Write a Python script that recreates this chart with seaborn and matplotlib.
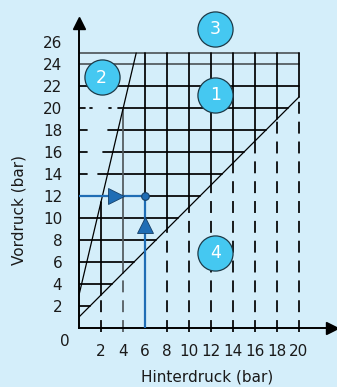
import numpy as np
import pandas as pd
import matplotlib
matplotlib.use("Agg")
import matplotlib.pyplot as plt
import seaborn as sns

# ---------------- data ----------------
hinterdruck_ticks = [2, 4, 6, 8, 10, 12, 14, 16, 18, 20]
vordruck_ticks = [2, 4, 6, 8, 10, 12, 14, 16, 18, 20, 22, 24, 26]
grid_top = 25          # upper limit of the diagram
grid_right = 20        # right limit of the diagram
steep_line_x = [0, 5.2]
steep_line_y = [3, 25]
diag_line_x = [0, 20]
diag_line_y = [1, 21]
region_labels = ["1", "2", "3", "4"]
region_x = [12.4, 2.05, 12.4, 12.4]
region_y = [21.2, 22.8, 27.2, 6.85]
op_hinterdruck = 6
op_vordruck = 12

BG = "#d4eefa"
BLUE = "#1f6db5"
CYAN = "#45c8f1"
GRAY = "#50585c"
TXT = "#1a1a1a"
FS = 11

sns.set_theme(style="white")
plt.rcParams["font.family"] = ["DejaVu Sans"]

fig = plt.figure(figsize=(3.37, 3.87), dpi=100, facecolor=BG)
W, H = 337, 387
x0px, y0px, ppu = 79, 328, 11.0
xmax, ymax = 23.0, 27.7
ax = fig.add_axes([x0px / W, (H - y0px) / H, xmax * ppu / W, ymax * ppu / H])
ax.set_facecolor(BG)
ax.set_xlim(0, xmax)
ax.set_ylim(0, ymax)


def lin(xs, ys, v):
    s = (ys[1] - ys[0]) / (xs[1] - xs[0])
    return ys[0] + s * (v - xs[0])


def steep_x_at(y):
    return lin(steep_line_y, steep_line_x, y)


def steep_y_at(x):
    return lin(steep_line_x, steep_line_y, x)


def diag_x_at(y):
    return lin(diag_line_y, diag_line_x, y)


def diag_y_at(x):
    return lin(diag_line_x, diag_line_y, x)


LW = 1.25
# horizontal grid lines
for y in vordruck_ticks:
    if y > grid_top:
        continue
    right = min(grid_right, diag_x_at(y))
    col = GRAY if y >= 24 else "black"
    if y <= 12:
        start = op_hinterdruck if y == op_vordruck else 0
        ax.plot([start, right], [y, y], color=col, lw=LW, zorder=2)
    elif y <= 18:
        ax.plot([0, 0.7], [y, y], color=col, lw=LW, zorder=2)
        ax.plot([steep_x_at(y) - 0.9, right], [y, y], color=col, lw=LW, zorder=2)
    elif y == 20:
        ax.plot([0, 0.5], [y, y], color=col, lw=LW, zorder=2)
        ax.plot([1.0, 1.15], [y, y], color=col, lw=LW, zorder=2)
        ax.plot([2.75, 2.9], [y, y], color=col, lw=LW, zorder=2)
        ax.plot([3.5, right], [y, y], color=col, lw=LW, zorder=2)
    else:
        ax.plot([0, right], [y, y], color=col, lw=LW, zorder=2)
ax.plot([0, grid_right], [grid_top, grid_top], color=GRAY, lw=LW, zorder=2)

# vertical grid lines
dash = (12 / 1.4 / LW, 8 / 1.4 / LW)
for x in hinterdruck_ticks:
    lo = diag_y_at(x)
    hi = min(grid_top, steep_y_at(x))
    col = GRAY if x == 4 else "black"
    if x != op_hinterdruck:
        ax.plot([x, x], [lo, hi], color=col, lw=LW, zorder=2)
        ax.plot([x, x], [-0.35, lo], color=col, lw=LW, zorder=2,
                linestyle=(0, dash), clip_on=False)
    else:
        ax.plot([x, x], [op_vordruck, hi], color=col, lw=LW, zorder=2)

# boundary lines
bounds = pd.DataFrame({
    "x": steep_line_x + diag_line_x,
    "y": steep_line_y + diag_line_y,
    "line": ["steep", "steep", "diag", "diag"],
})
sns.lineplot(data=bounds, x="x", y="y", units="line", estimator=None,
             color="black", lw=0.9, ax=ax, zorder=3, sort=False)

# operating point path
ax.plot([0, op_hinterdruck], [op_vordruck, op_vordruck], color=BLUE, lw=1.6, zorder=4)
ax.plot([op_hinterdruck, op_hinterdruck], [0, op_vordruck], color=BLUE, lw=1.6, zorder=4)
ax.plot([3.35], [op_vordruck], marker=">", ms=11, color=BLUE, mec="#153f66",
        mew=0.6, zorder=5)
ax.plot([op_hinterdruck], [9.35], marker="^", ms=11, color=BLUE, mec="#153f66",
        mew=0.6, zorder=5)
ax.plot([op_hinterdruck], [op_vordruck], marker="o", ms=5.5, color=BLUE,
        mec="#153f66", mew=0.8, zorder=6)

# region circles
regions = pd.DataFrame({"x": region_x, "y": region_y, "label": region_labels})
sns.scatterplot(data=regions, x="x", y="y", s=640, color=CYAN,
                edgecolor="#1d3a48", linewidth=0.9, ax=ax, zorder=7,
                clip_on=False, legend=False)
for _, r in regions.iterrows():
    ax.text(r.x, r.y - 0.05, r.label, color="white", fontsize=12.5,
            ha="center", va="center", zorder=8)

# axes styling
for s in ["top", "right"]:
    ax.spines[s].set_visible(False)
for s in ["left", "bottom"]:
    ax.spines[s].set_color("black")
    ax.spines[s].set_linewidth(1.4)
ax.plot(0, ymax, marker="^", ms=9, color="black", clip_on=False, zorder=9)
ax.plot(xmax, 0, marker=">", ms=9, color="black", clip_on=False, zorder=9)

ax.set_xticks(hinterdruck_ticks)
ax.set_xticklabels([str(v) for v in hinterdruck_ticks])
ax.set_yticks(vordruck_ticks)
ax.set_yticklabels([str(v) for v in vordruck_ticks])
ax.tick_params(axis="x", direction="out", length=6.5, width=1.2, color="black",
               pad=5, labelsize=FS, labelcolor=TXT)
ax.tick_params(axis="y", direction="out", length=8, width=1.2, color="black",
               pad=4, labelsize=FS, labelcolor=TXT)
ax.set_xlabel("")
ax.set_ylabel("")
fig.text(65 / W, 1 - 342 / H, "0", fontsize=FS, ha="center", va="center",
         color=TXT)
fig.text(207 / W, 1 - 377 / H, "Hinterdruck (bar)", fontsize=FS, ha="center",
         va="center", color=TXT)
fig.text(19 / W, 1 - 210 / H, "Vordruck (bar)", fontsize=FS, ha="center",
         va="center", rotation=90, color=TXT)

fig.savefig("out.png", dpi=100, facecolor=BG)
